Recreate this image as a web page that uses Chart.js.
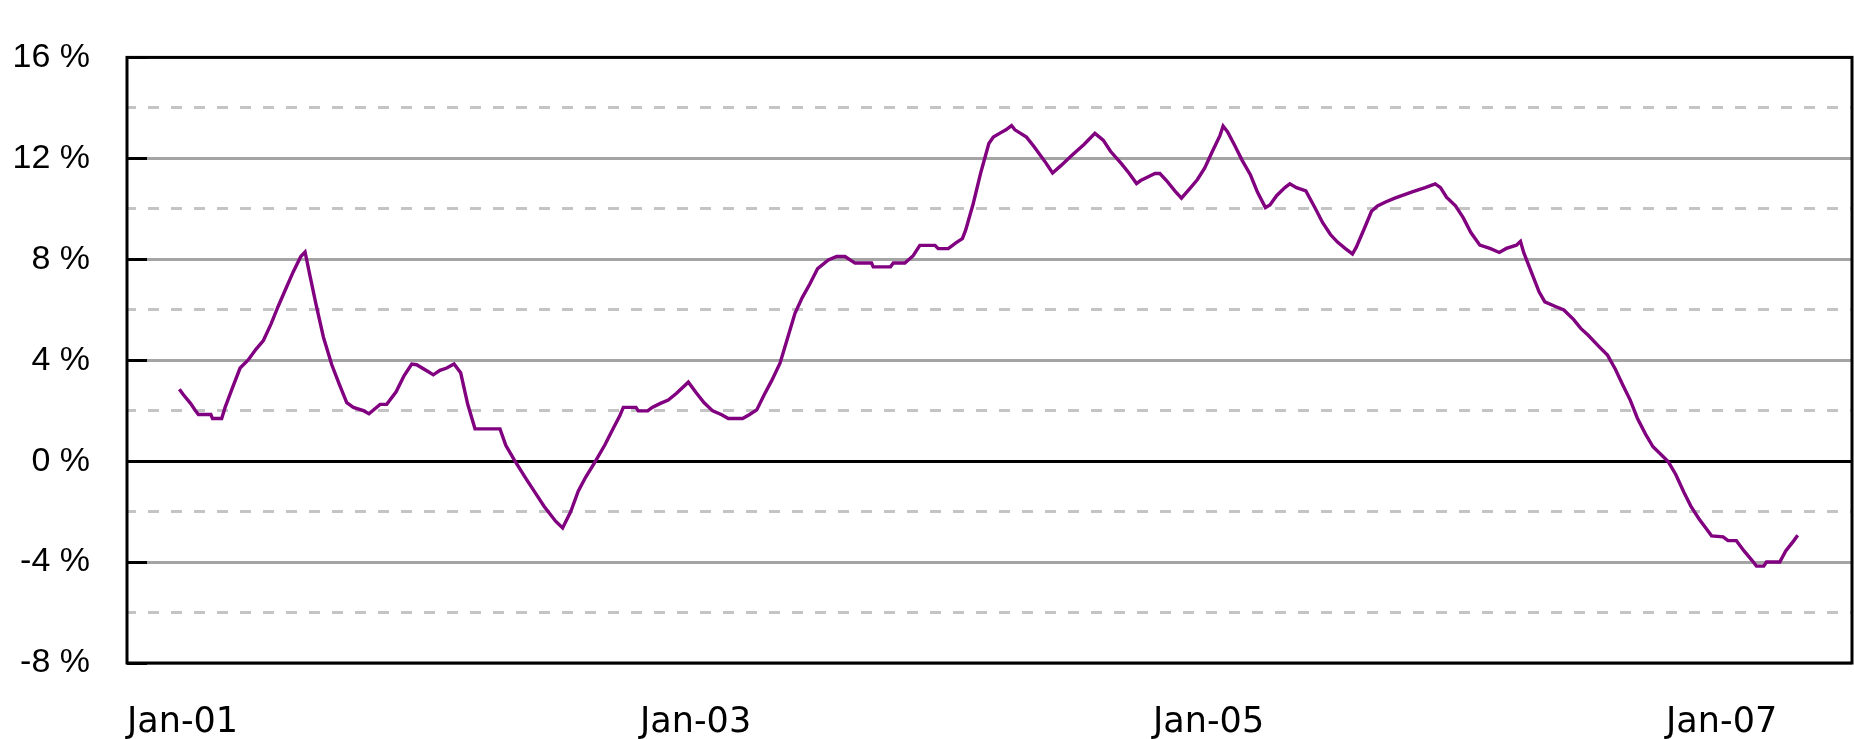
<!DOCTYPE html>
<html>
<head>
<meta charset="utf-8">
<script src="https://cdn.jsdelivr.net/npm/chart.js@4/dist/chart.umd.min.js"></script>
<style>
  html, body { margin:0; padding:0; background:#fff; }
  #wrap { width:1854px; height:739px; position:relative; }
</style>
</head>
<body>
<div id="wrap"><canvas id="chart"></canvas></div>
<script>
// x = months since Jan-01, y = return in %
const months = [
  -0.15, 0.04, 0.38, 0.58, 0.74, 1.32, 1.40, 1.83, 1.99, 2.35, 2.69, 3.06, 3.44, 3.78, 4.14, 4.47, 4.84, 5.18, 5.53, 5.73,
  5.92, 6.23, 6.59, 6.98, 7.32, 7.68, 7.99, 8.46, 8.72, 9.24, 9.55, 9.99, 10.36, 10.72, 10.95, 11.5, 11.73, 12.04, 12.36, 12.7,
  13.01, 13.34, 13.68, 14.85, 15.12, 15.51, 16.02, 16.57, 16.91, 17.45, 17.78, 18.16, 18.51, 18.86, 19.25,
  19.76, 20.12, 20.46, 20.62, 21.21, 21.32, 21.76, 21.97, 22.33, 22.72, 23.11, 23.66, 24.02, 24.39, 24.8, 25.22, 25.53, 26.2,
  26.51, 26.86, 27.21, 27.56, 27.95, 28.29, 28.65, 28.99, 29.35, 29.71, 30.21, 30.6, 30.99, 31.46, 32.23, 32.31, 33.12, 33.25,
  33.79, 34.18, 34.49, 35.2, 35.35, 35.82, 36.21, 36.48,
  36.63, 36.99, 37.35, 37.72, 37.93, 38.24, 38.52, 38.78, 38.94, 39.48, 39.83, 40.37, 40.7, 41.09, 41.62, 42.17, 42.68, 43.07,
  43.41, 43.93, 44.29, 44.63, 44.82, 45.18, 45.49, 45.72, 46.03, 46.42, 46.73, 47.12, 47.47, 47.82, 48.18, 48.53, 48.68, 48.89,
  49.23, 49.57, 49.96, 50.29, 50.66, 50.87, 51.18, 51.57, 51.8, 52.11, 52.55,
  52.97, 53.33, 53.7, 54.03, 54.4, 54.73, 54.91, 55.31, 55.62, 55.9, 56.28, 56.71, 57.56, 58.13, 58.6, 58.85, 59.13, 59.55,
  59.91, 60.27, 60.69, 61.16, 61.6, 61.93, 62.4, 62.59, 62.74, 63.1, 63.46, 63.73, 64.2, 64.62, 65.08, 65.41, 65.76,
  66.3, 66.66, 67.03, 67.36, 67.73, 68.06, 68.44, 68.79, 69.14, 69.5, 69.85, 70.23, 70.56, 70.93, 71.26, 71.53, 72.07, 72.3,
  72.69, 73.05, 73.43, 73.63, 73.97, 74.1, 74.72, 75.0, 75.38, 75.56
];
const returnPct = [
  2.85, 2.63, 2.28, 2.03, 1.85, 1.85, 1.69, 1.69, 2.13, 2.94, 3.69, 4.0, 4.44, 4.78, 5.44, 6.13, 6.85, 7.51, 8.11, 8.29,
  7.51, 6.26, 4.91, 3.82, 3.07, 2.32, 2.13, 2.0, 1.88, 2.25, 2.25, 2.75, 3.38, 3.85, 3.82, 3.54, 3.42, 3.6, 3.69, 3.85,
  3.5, 2.25, 1.28, 1.28, 0.63, 0.06, -0.63, -1.35, -1.79, -2.38, -2.65, -2.0, -1.19, -0.63, -0.1,
  0.65, 1.25, 1.81, 2.13, 2.13, 1.99, 1.99, 2.13, 2.28, 2.42, 2.69, 3.13, 2.72, 2.32, 1.99, 1.84, 1.69, 1.69,
  1.84, 2.03, 2.63, 3.19, 3.88, 4.84, 5.86, 6.48, 7.03, 7.63, 7.97, 8.11, 8.11, 7.85, 7.85, 7.7, 7.7, 7.85,
  7.85, 8.14, 8.55, 8.55, 8.42, 8.42, 8.67, 8.82,
  9.14, 10.21, 11.46, 12.59, 12.84, 13.0, 13.13, 13.3, 13.13, 12.84, 12.47, 11.84, 11.42, 11.71, 12.13, 12.55, 12.99, 12.72,
  12.28, 11.78, 11.4, 11.0, 11.12, 11.27, 11.4, 11.4, 11.12, 10.71, 10.42, 10.8, 11.15, 11.62, 12.28, 12.9, 13.28, 13.05,
  12.5, 11.92, 11.34, 10.65, 10.05, 10.15, 10.52, 10.84, 10.99, 10.84, 10.71,
  10.05, 9.46, 8.98, 8.68, 8.42, 8.21, 8.48, 9.27, 9.9, 10.11, 10.27, 10.42, 10.68, 10.84, 10.99, 10.84, 10.46, 10.12,
  9.65, 9.06, 8.56, 8.43, 8.27, 8.43, 8.56, 8.71, 8.27, 7.49, 6.71, 6.31, 6.14, 5.99, 5.61, 5.26, 4.99,
  4.51, 4.2, 3.64, 3.05, 2.41, 1.7, 1.07, 0.57, 0.28, -0.02, -0.52, -1.22, -1.78, -2.27, -2.65, -2.96, -3.0, -3.15,
  -3.15, -3.56, -3.94, -4.16, -4.16, -4.0, -4.0, -3.56, -3.15, -2.94
];

const tickMonths = [0, 24, 48, 72];
const tickLabels = ['Jan-01', 'Jan-03', 'Jan-05', 'Jan-07'];
const yMin = -8, yMax = 16;

// ─ frame + inside tick marks on the value axis ─
const framePlugin = {
  id: 'frame',
  afterDatasetsDraw(chart) {
    const { ctx, chartArea: a, scales: { y } } = chart;
    ctx.save();
    ctx.strokeStyle = '#000';
    ctx.lineWidth = 3;
    y.ticks.forEach(t => {
      const py = Math.round(y.getPixelForValue(t.value) - 1.5) + 1.5;
      ctx.beginPath();
      ctx.moveTo(a.left, py);
      ctx.lineTo(a.left + 20, py);
      ctx.stroke();
    });
    ctx.strokeRect(a.left, a.top, a.right - a.left, a.bottom - a.top);
    ctx.restore();
  }
};

new Chart(document.getElementById('chart'), {
  type: 'line',
  data: {
    datasets: [{
      data: months.map((m, i) => ({ x: m, y: returnPct[i] })),
      borderColor: '#800080',
      borderWidth: 3.4,
      pointRadius: 0,
      tension: 0,
      fill: false
    }]
  },
  options: {
    responsive: true, maintainAspectRatio: false, animation: false,
    layout: { padding: { top: 24, right: 2, bottom: 0, left: 0 } },
    plugins: { legend: { display: false }, tooltip: { enabled: false } },
    scales: {
      x: {
        type: 'linear', min: -2.6, max: 78.1,
        afterBuildTicks: s => { s.ticks = tickMonths.map(v => ({ value: v })); },
        afterFit: s => { s.height = 76; },
        grid: { display: false, drawTicks: false },
        border: { display: false },
        ticks: {
          autoSkip: false, maxRotation: 0, padding: 39, color: '#000',
          font: { family: 'DejaVu Sans', size: 35 },
          callback: v => tickLabels[tickMonths.indexOf(v)]
        }
      },
      y: {
        position: 'left', min: yMin, max: yMax,
        afterFit: s => { s.width = 127; },
        ticks: {
          stepSize: 4, padding: 37, color: '#000',
          font: { family: 'Liberation Sans', size: 34 },
          callback: v => v + ' %'
        },
        grid: { drawTicks: false, lineWidth: 3, color: c => c.tick.value === 0 ? '#000' : '#a4a4a4' },
        border: { display: false }
      },
      yMinor: {
        position: 'left', min: yMin, max: yMax,
        afterFit: s => { s.width = 0; },
        ticks: { display: false, stepSize: 2 },
        grid: { drawTicks: false, lineWidth: 3, color: c => c.tick.value % 4 === 0 ? 'rgba(0,0,0,0)' : '#c4c4c4' },
        border: { display: false, dash: [11, 12], dashOffset: 2 }
      }
    }
  },
  plugins: [framePlugin]
});
</script>
</body>
</html>
